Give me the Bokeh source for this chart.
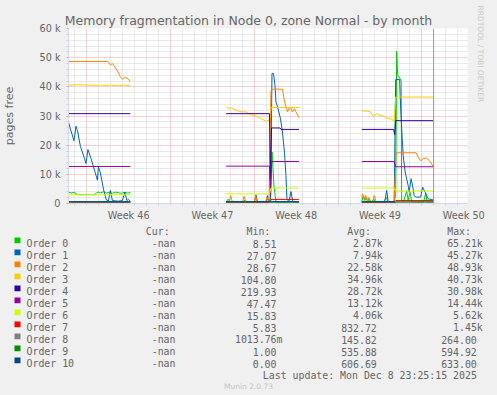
import pandas as pd
from bokeh.plotting import figure
from bokeh.models import (Range1d, FixedTicker, Label, BoxAnnotation, Span,
                          ColumnDataSource, Title)
from bokeh.embed import file_html
from bokeh.resources import INLINE

nan = float("nan")

# ---------------- data ----------------
START = pd.Timestamp("2025-11-08 11:24")       # left edge of the month graph
SPAN_HOURS = 800
LAST_UPDATE = pd.Timestamp("2025-12-08 23:25:15")

week_labels = ["Week 46", "Week 47", "Week 48", "Week 49", "Week 50"]
week_mid = ["2025-11-13 12:00", "2025-11-20 12:00", "2025-11-27 12:00",
            "2025-12-04 12:00", "2025-12-11 12:00"]
week_start = ["2025-11-10", "2025-11-17", "2025-11-24", "2025-12-01", "2025-12-08"]

y_ticks = [0, 10000, 20000, 30000, 40000, 50000, 60000]
y_tick_labels = ["0", "10 k", "20 k", "30 k", "40 k", "50 k", "60 k"]

orders = ["Order 0", "Order 1", "Order 2", "Order 3", "Order 4", "Order 5",
          "Order 6", "Order 7", "Order 8", "Order 9", "Order 10"]
colors = ["#00CC00", "#0066B3", "#FF8000", "#FFCC00", "#330099", "#990099",
          "#CCFF00", "#FF0000", "#808080", "#008F00", "#00487D"]
cur_vals = ["-nan"] * 11
min_vals = ["8.51", "27.07", "28.67", "104.80", "219.93", "47.47", "15.83",
            "5.83", "1013.76m", "1.00", "0.00"]
avg_vals = ["2.87k", "7.94k", "22.58k", "34.96k", "28.72k", "13.12k", "4.06k",
            "832.72", "145.82", "535.88", "606.69"]
max_vals = ["65.21k", "45.27k", "48.93k", "40.73k", "30.98k", "14.44k", "5.62k",
            "1.45k", "264.00", "594.92", "633.00"]

# (hours since START, pages free), one list per period with data
order0 = [
    [(0, 3600), (3, 3900), (6, 3500), (9, 3800), (12, 3700), (15, 3400), (18, 3000),
     (30, 3000), (40, 3100), (52, 3000), (56, 3600), (60, 3900), (64, 3700), (70, 4000),
     (76, 3600), (82, 3800), (88, 3500), (94, 3900), (100, 3700), (106, 3500),
     (112, 3800), (118, 3600), (124, 3700)],
    [(316, 500), (320, 1500), (324, 400), (350, 400), (353, 1200), (356, 300),
     (374, 300), (377, 1000), (380, 300), (396, 300), (399, 1500), (402, 500),
     (405, 1000), (408, 17600), (412, 6000), (416, 400), (430, 300), (446, 600),
     (462, 300)],
    [(588, 800), (591, 2500), (594, 1000), (597, 2200), (600, 600), (603, 1800),
     (606, 500), (612, 1500), (615, 400), (630, 400), (638, 2000), (641, 400),
     (653, 400), (656, 3000), (658, 52200), (660, 44000), (664, 43000), (667, 42000),
     (668, 1000), (672, 800), (678, 4200), (681, 1200), (685, 3800), (688, 600),
     (700, 500), (712, 500), (716, 3500), (719, 500), (732, 500)],
]
order1 = [
    [(0, 27900), (4, 25500), (11, 21500), (15, 26500), (18, 25000), (24, 19500),
     (32, 15500), (35, 13700), (39, 18500), (45, 15500), (52, 11500), (58, 8000),
     (60, 12500), (64, 10500), (70, 5000), (76, 1200), (80, 800), (84, 4500),
     (88, 1000), (100, 800), (108, 1000), (113, 3900), (117, 1000), (120, 1400),
     (124, 800)],
    [(316, 500), (350, 500), (373, 500), (376, 3000), (379, 500), (396, 500),
     (399, 2700), (402, 600), (405, 2000), (408, 44600), (411, 44600), (414, 40500),
     (416, 34800), (421, 32000), (425, 29100), (429, 24500), (433, 17600),
     (436, 9600), (438, 1600), (442, 500), (446, 4100), (450, 500), (462, 600)],
    [(588, 500), (634, 500), (638, 4500), (641, 500), (653, 500), (656, 42500),
     (664, 42500), (665, 37000), (668, 25700), (671, 16500), (675, 10800),
     (678, 8500), (681, 6200), (683, 3900), (687, 8500), (690, 6000), (693, 2700),
     (697, 2200), (706, 2200), (710, 5600), (715, 3900), (721, 1600), (732, 1200)],
]
order2 = [
    [(0, 48700), (78, 48700), (84, 47500), (88, 48000), (92, 47000), (98, 45500),
     (104, 43500), (108, 42600), (112, 43300), (118, 42900), (124, 41800)],
    [(316, 400), (322, 400), (325, 2700), (329, 400), (349, 400), (352, 2500),
     (356, 400), (372, 400), (375, 2600), (379, 400), (395, 400), (398, 2200),
     (402, 600), (406, 38800), (410, 39200), (429, 39200), (432, 36000),
     (436, 33100), (439, 31400), (443, 32800), (446, 32600), (449, 31400),
     (453, 32500), (456, 31400), (462, 29500)],
    [(588, 2000), (590, 3300), (593, 1500), (596, 2800), (599, 800), (602, 2000),
     (605, 500), (610, 500), (613, 2700), (617, 500), (653, 500), (657, 17400),
     (697, 17400), (701, 15900), (705, 14800), (708, 14800), (711, 15400),
     (718, 15600), (723, 14800), (728, 13600), (732, 12500)],
]
order3 = [
    [(0, 40600), (20, 40700), (40, 40600), (58, 40500), (60, 40200), (62, 40600),
     (80, 40500), (84, 40300), (86, 40600), (100, 40300), (110, 40600), (124, 40400)],
    [(316, 33100), (322, 32600), (326, 32800), (336, 32000), (346, 31400),
     (356, 31400), (366, 30500), (376, 30000), (386, 29100), (396, 28200),
     (400, 28500), (403, 28400), (406, 32900), (462, 32900)],
    [(588, 31700), (598, 31700), (605, 31400), (611, 30000), (618, 30800),
     (625, 30200), (631, 30000), (638, 29300), (648, 28900), (653, 28200),
     (656, 36500), (732, 36500)],
]
order4 = [
    [(0, 30800), (124, 30800)],
    [(316, 30800), (403, 30800), (405, 8000), (407, 25900), (424, 25900),
     (426, 25400), (462, 25400)],
    [(588, 25400), (652, 25400), (654, 23600), (656, 28400), (732, 28400)],
]
order5 = [
    [(0, 12700), (124, 12700)],
    [(316, 12800), (403, 12800), (405, 3000), (407, 14400), (462, 14400)],
    [(588, 14400), (653, 14400), (656, 12600), (732, 12600)],
]
order6 = [
    [(0, 3000), (124, 3000)],
    [(316, 3300), (403, 3300), (406, 5300), (462, 5300)],
    [(588, 5300), (653, 5300), (656, 4300), (732, 4300)],
]
order7 = [
    [(0, 300), (124, 300)],
    [(316, 300), (403, 300), (406, 1400), (462, 1400)],
    [(588, 300), (653, 300), (656, 1000), (732, 1000)],
]
order8 = [
    [(0, 150), (124, 150)],
    [(316, 150), (403, 150), (406, 260), (462, 260)],
    [(588, 140), (653, 140), (656, 250), (732, 250)],
]
order9 = [
    [(0, 560), (124, 560)],
    [(316, 560), (462, 570)],
    [(588, 580), (653, 580), (656, 595), (732, 595)],
]
order10 = [
    [(0, 630), (124, 630)],
    [(316, 630), (462, 633)],
    [(588, 620), (653, 620), (656, 0), (732, 0)],
]
series = [order0, order1, order2, order3, order4, order5, order6, order7,
          order8, order9, order10]

# ---------------- helpers ----------------
def ms(ts):
    return int(pd.Timestamp(ts).value // 10**6)

start_ms = ms(START)
HOUR = 3600 * 1000

def build(segments):
    xs, ys = [], []
    for k, seg in enumerate(segments):
        if k:
            xs.append(nan); ys.append(nan)
        for h, v in seg:
            xs.append(start_ms + h * HOUR)
            ys.append(v)
    return xs, ys

FONT = "#666666"
AXIS = "#CFD6F8"
GRID = "#d2d2d2"
MGRID = "#e8a0a0"
BACK = "#F0F0F0"

W = 497
H_TOP = 224
FL, FT, FW, FH = 67, 28, 400, 175   # frame placement inside the main figure

p = figure(width=W, height=H_TOP, x_axis_type="datetime",
           x_range=Range1d(start_ms, start_ms + SPAN_HOURS * HOUR),
           y_range=Range1d(0, 60000),
           output_backend="svg", toolbar_location=None,
           min_border_left=FL, min_border_right=W - FL - FW,
           min_border_top=FT, min_border_bottom=H_TOP - FT - FH,
           background_fill_color="#ffffff", border_fill_color=BACK,
           outline_line_color=None)

# title
p.title.text = "Memory fragmentation in Node 0, zone Normal - by month"
p.title.text_font = "DejaVu Sans"
p.title.text_font_size = "12.5px"
p.title.text_font_style = "normal"
p.title.text_color = FONT
p.title.align = "left"
p.title.offset = -3.7
p.title.standoff = 2

# watermark on the right
p.add_layout(Title(text="RRDTOOL / TOBI OETIKER", text_font="DejaVu Sans",
                   text_font_size="7.5px", text_font_style="normal",
                   text_color="#c8c8c8", align="left", offset=-23,
                   standoff=16), "right")

# grids
week_start_ms = [ms(w) for w in week_start]
day_ms = []
d = pd.Timestamp("2025-11-09")
while d < START + pd.Timedelta(hours=SPAN_HOURS):
    if ms(d) not in week_start_ms:
        day_ms.append(ms(d))
    d += pd.Timedelta(days=1)
all_day_ms = sorted(day_ms + week_start_ms)

p.xgrid.ticker = FixedTicker(ticks=week_start_ms, minor_ticks=day_ms)
p.xgrid.grid_line_color = MGRID
p.xgrid.grid_line_dash = "1 1"
p.xgrid.minor_grid_line_color = GRID
p.xgrid.minor_grid_line_dash = "1 1"

y_minor = [v for v in range(0, 60001, 2000) if v % 10000]
p.ygrid.ticker = FixedTicker(ticks=y_ticks, minor_ticks=y_minor)
p.ygrid.grid_line_color = MGRID
p.ygrid.grid_line_dash = "1 1"
p.ygrid.minor_grid_line_color = GRID
p.ygrid.minor_grid_line_dash = "1 1"

# axes
mid_ms = [ms(w) for w in week_mid]
xa = p.xaxis[0]
xa.ticker = FixedTicker(ticks=mid_ms, minor_ticks=all_day_ms)
xa.major_label_overrides = {m: lab for m, lab in zip(mid_ms, week_labels)}
xa.major_tick_out = 0
xa.major_tick_in = 0
xa.minor_tick_out = 2
xa.minor_tick_in = 0
xa.minor_tick_line_color = GRID
xa.axis_line_color = AXIS
xa.major_label_standoff = 4
xa.major_label_text_font = "DejaVu Sans"
xa.major_label_text_font_size = "9.7px"
xa.major_label_text_color = FONT

ya = p.yaxis[0]
ya.ticker = FixedTicker(ticks=y_ticks, minor_ticks=y_minor)
ya.major_label_overrides = {t: lab for t, lab in zip(y_ticks, y_tick_labels)}
ya.major_tick_out = 2
ya.major_tick_in = 0
ya.major_tick_line_color = MGRID
ya.minor_tick_out = 2
ya.minor_tick_in = 0
ya.minor_tick_line_color = GRID
ya.axis_line_color = AXIS
ya.major_label_standoff = 6
ya.major_label_text_font = "DejaVu Sans"
ya.major_label_text_font_size = "9.7px"
ya.major_label_text_color = FONT
ya.axis_label = "pages free"
ya.axis_label_text_font = "DejaVu Sans"
ya.axis_label_text_font_size = "11px"
ya.axis_label_text_font_style = "normal"
ya.axis_label_text_color = FONT
ya.axis_label_standoff = 20

# series
for name, col, segs in zip(orders, colors, series):
    xs, ys = build(segs)
    src = ColumnDataSource(dict(t=xs, v=ys))
    p.line("t", "v", source=src, line_color=col, line_width=1)

# last update marker
p.add_layout(Span(location=ms(LAST_UPDATE), dimension="height",
                  line_color="#999999", line_width=1))

# ---------------- legend block (window pixel coordinates) ----------------
Q_TOP = H_TOP
H_BOT = 395 - Q_TOP
q = figure(width=W, height=H_BOT, x_range=Range1d(0, W),
           y_range=Range1d(395, Q_TOP),
           output_backend="svg", toolbar_location=None,
           x_axis_location=None, y_axis_location=None,
           min_border_left=0, min_border_right=0, min_border_top=0,
           min_border_bottom=0, background_fill_color=BACK,
           border_fill_color=BACK, outline_line_color=None)
q.grid.visible = False

def label(text, X, Y, size="9.9px", font="DejaVu Sans Mono", align="left",
          color=FONT):
    q.add_layout(Label(x=X, y=Y, text=text, text_font=font,
                       text_font_size=size, text_color=color,
                       text_align=align, text_baseline="alphabetic"))

base0 = 243.2
hdr = base0 - 12
label("Cur:", 145.3, hdr)
label("Min:", 246.0, hdr)
label("Avg:", 346.7, hdr)
label("Max:", 446.7, hdr)

def right_edge(val, unit_edge):
    return unit_edge if val[-1].isalpha() else unit_edge - 6.0

for i in range(11):
    b = base0 + 12 * i
    q.add_layout(BoxAnnotation(left=14, right=20, top=b - 6.2, bottom=b - 0.4,
                               fill_color=colors[i], fill_alpha=1.0,
                               line_color=None))
    label(orders[i], 26, b)
    label(cur_vals[i], 175.0, b, align="right")
    label(min_vals[i], right_edge(min_vals[i], 282.0), b, align="right")
    label(avg_vals[i], right_edge(avg_vals[i], 382.3), b, align="right")
    label(max_vals[i], right_edge(max_vals[i], 482.3), b, align="right")

label("Last update: Mon Dec  8 23:25:15 2025", 482.3, base0 + 12 * 11,
      align="right")
label("Munin 2.0.73", 248, 386.3, size="7.5px", font="DejaVu Sans",
      align="center", color="#c4c4c4")

# two independent roots stacked on the page; top-align them so the browser
# leaves no text-baseline gap between them
html = file_html([p, q], INLINE)
html = html.replace("</head>",
                    "<style>html,body{background:#f0f0f0}"
                    "body *{vertical-align:top}</style></head>", 1)
open("out.html", "w").write(html)
